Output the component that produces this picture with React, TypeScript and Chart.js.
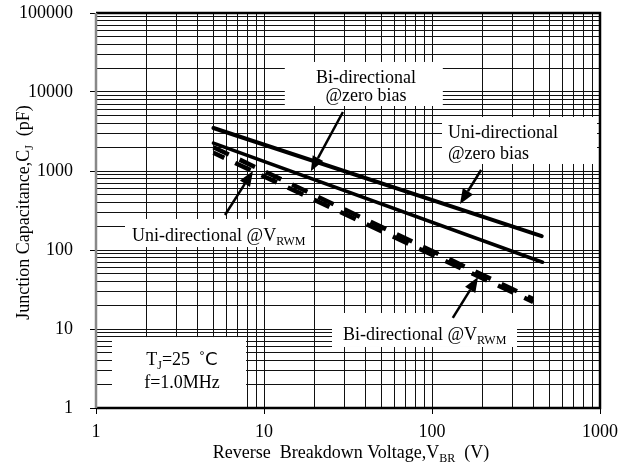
import React, { useEffect, useRef } from 'react';
import { Chart, registerables } from 'chart.js';

Chart.register(...registerables);

// ---- data ----
const uniZeroV = [5, 450];
const uniZeroC = [3500, 150];
const biZeroV = [5, 455];
const biZeroC = [2250, 70];
const uniRwmV = [5, 400];
const uniRwmC = [2000, 24];
const biRwmV = [5, 400];
const biRwmC = [1700, 22];

const xTickLabels = ['1', '10', '100', '1000'];
const yTickLabels = ['1', '10', '100', '1000', '10000', '100000'];

const SERIF = '"Liberation Serif", "Times New Roman", serif';
const SANS = '"DejaVu Sans", sans-serif';

type Part = { t: string; sub?: boolean; font?: string };
type Line = { x: number; y: number; parts: Part[] };
type Note = {
  box: [number, number, number, number];
  align: 'left' | 'center';
  lines: Line[];
  arrow?: [number, number, number, number];
};

// annotation boxes / texts / arrows in data coordinates (V, pF)
const notes: Note[] = [
  {
    box: [13.3, 24000, 116, 6650],
    align: 'center',
    lines: [
      { x: 40.5, y: 13000, parts: [{ t: 'Bi-directional' }] },
      { x: 40.5, y: 7700, parts: [{ t: '@zero bias' }] },
    ],
    arrow: [29.5, 5580, 19.0, 990],
  },
  {
    box: [114.7, 4830, 960, 1227],
    align: 'left',
    lines: [
      { x: 124.5, y: 2618, parts: [{ t: 'Uni-directional' }] },
      { x: 124.5, y: 1419, parts: [{ t: '@zero bias' }] },
    ],
    arrow: [196, 1030, 146.8, 382],
  },
  {
    box: [1.488, 247, 19.05, 109],
    align: 'left',
    lines: [{ x: 1.64, y: 130, parts: [{ t: 'Uni-directional @V' }, { t: 'RWM', sub: true }] }],
    arrow: [5.86, 277, 8.6, 1000],
  },
  {
    box: [25.4, 15.95, 320.6, 5.92],
    align: 'left',
    lines: [{ x: 29.5, y: 7.26, parts: [{ t: 'Bi-directional @V' }, { t: 'RWM', sub: true }] }],
    arrow: [133, 13.8, 188, 45.5],
  },
  {
    box: [1.245, 7.9, 7.82, 1],
    align: 'center',
    lines: [
      { x: 3.25, y: 3.5, parts: [{ t: 'T' }, { t: 'J', sub: true }, { t: '=25  \u02DA' }, { t: 'C', font: SANS }] },
      { x: 3.25, y: 1.79, parts: [{ t: 'f=1.0MHz' }] },
    ],
  },
];

const yTitle: Part[] = [{ t: 'Junction Capacitance,C' }, { t: 'J', sub: true }, { t: '  (pF)' }];
const xTitle: Part[] = [{ t: 'Reverse  Breakdown Voltage,V' }, { t: 'BR', sub: true }, { t: '  (V)' }];

function decadeGrid(maxExp: number): number[] {
  const out: number[] = [];
  for (let k = 0; k < maxExp; k++) {
    for (let d = 1; d <= 9; d++) out.push(d * Math.pow(10, k));
  }
  out.push(Math.pow(10, maxExp));
  return out;
}

function toPoints(xs: number[], ys: number[]) {
  return xs.map((x, i) => ({ x, y: ys[i] }));
}

function drawRich(ctx: CanvasRenderingContext2D, parts: Part[], x: number, y: number, align: string, size: number) {
  const subSize = Math.round(size * 0.68);
  const fontOf = (p: Part) => `${p.sub ? subSize : size}px ${p.font || SERIF}`;
  const widths = parts.map((p) => {
    ctx.font = fontOf(p);
    return ctx.measureText(p.t).width;
  });
  const total = widths.reduce((a, b) => a + b, 0);
  let cx = align === 'center' ? x - total / 2 : x;
  ctx.textAlign = 'left';
  ctx.textBaseline = 'alphabetic';
  parts.forEach((p, i) => {
    ctx.font = fontOf(p);
    ctx.fillText(p.t, cx, y + (p.sub ? size * 0.24 : 0));
    cx += widths[i];
  });
}

function drawArrow(ctx: CanvasRenderingContext2D, x1: number, y1: number, x2: number, y2: number) {
  const ang = Math.atan2(y2 - y1, x2 - x1);
  const headLen = 15;
  const headHalf = 6;
  const bx = x2 - headLen * Math.cos(ang);
  const by = y2 - headLen * Math.sin(ang);
  ctx.strokeStyle = '#000';
  ctx.lineWidth = 2.5;
  ctx.beginPath();
  ctx.moveTo(x1, y1);
  ctx.lineTo(bx, by);
  ctx.stroke();
  ctx.fillStyle = '#000';
  ctx.beginPath();
  ctx.moveTo(x2, y2);
  ctx.lineTo(bx + headHalf * Math.sin(ang), by - headHalf * Math.cos(ang));
  ctx.lineTo(bx - headHalf * Math.sin(ang), by + headHalf * Math.cos(ang));
  ctx.closePath();
  ctx.fill();
}

const notesPlugin = {
  id: 'notesPlugin',
  beforeDatasetsDraw(chart: any) {
    const { ctx, scales } = chart;
    const xs = scales.x;
    const ys = scales.y;
    ctx.save();
    ctx.fillStyle = '#ffffff';
    for (const n of notes) {
      const x1 = xs.getPixelForValue(n.box[0]);
      const y1 = ys.getPixelForValue(n.box[1]);
      const x2 = xs.getPixelForValue(n.box[2]);
      const y2 = ys.getPixelForValue(n.box[3]);
      ctx.fillRect(x1, y1, x2 - x1, y2 - y1);
    }
    ctx.restore();
  },
  afterDatasetsDraw(chart: any) {
    const { ctx, scales, chartArea } = chart;
    const xs = scales.x;
    const ys = scales.y;
    ctx.save();
    // frame
    const { left, right, top, bottom } = chartArea;
    ctx.lineWidth = 2.5;
    ctx.strokeStyle = '#000';
    ctx.beginPath();
    ctx.moveTo(left, top);
    ctx.lineTo(right, top);
    ctx.lineTo(right, bottom);
    ctx.lineTo(left, bottom);
    ctx.stroke();
    ctx.strokeStyle = '#888';
    ctx.beginPath();
    ctx.moveTo(left, top);
    ctx.lineTo(left, bottom);
    ctx.stroke();

    // arrows and texts
    ctx.fillStyle = '#000';
    for (const n of notes) {
      if (n.arrow) {
        drawArrow(
          ctx,
          xs.getPixelForValue(n.arrow[0]),
          ys.getPixelForValue(n.arrow[1]),
          xs.getPixelForValue(n.arrow[2]),
          ys.getPixelForValue(n.arrow[3])
        );
      }
      ctx.fillStyle = '#000';
      for (const l of n.lines) {
        drawRich(ctx, l.parts, xs.getPixelForValue(l.x), ys.getPixelForValue(l.y), n.align, 18);
      }
    }

    // axis titles
    ctx.fillStyle = '#000';
    drawRich(ctx, xTitle, (left + right) / 2 + 3, 458, 'center', 18);
    ctx.translate(29, (top + bottom) / 2 + 2);
    ctx.rotate(-Math.PI / 2);
    drawRich(ctx, yTitle, 0, 0, 'center', 18);
    ctx.restore();
  },
};

export default function App() {
  const ref = useRef<HTMLCanvasElement | null>(null);

  useEffect(() => {
    if (!ref.current) return;
    const xGrid = decadeGrid(3);
    const yGrid = decadeGrid(5);
    const solid = (data: any[], w: number) => ({
      data,
      showLine: true,
      borderColor: '#000',
      backgroundColor: '#000',
      borderWidth: w,
      pointRadius: 0,
      borderCapStyle: 'round',
      fill: false,
    });
    const dashed = (data: any[], offset: number) => ({
      data,
      showLine: true,
      borderColor: '#000',
      backgroundColor: '#000',
      borderWidth: 4.5,
      pointRadius: 0,
      borderDash: [17, 12],
      borderDashOffset: offset,
      borderCapStyle: 'butt',
      fill: false,
    });
    const chart = new Chart(ref.current, {
      type: 'scatter',
      data: {
        datasets: [
          solid(toPoints(uniZeroV, uniZeroC), 4) as any,
          solid(toPoints(biZeroV, biZeroC), 3.5) as any,
          dashed(toPoints(uniRwmV, uniRwmC), 0) as any,
          dashed(toPoints(biRwmV, biRwmC), 5) as any,
        ],
      },
      options: {
        animation: false,
        responsive: false,
        devicePixelRatio: 1,
        layout: { padding: { top: 13, right: 26, left: 0, bottom: 0 } },
        plugins: { legend: { display: false }, tooltip: { enabled: false } },
        scales: {
          x: {
            type: 'logarithmic',
            min: 1,
            max: 1000,
            afterBuildTicks: (s: any) => {
              s.ticks = xGrid.map((v) => ({ value: v }));
            },
            afterFit: (s: any) => {
              s.height = 64;
              s.paddingLeft = 0;
              s.paddingRight = 0;
            },
            border: { display: false },
            grid: {
              color: '#111',
              lineWidth: 1,
              tickLength: 6,
              tickColor: (c: any) => (xTickLabels.includes(String(c.tick?.value)) ? '#000' : 'rgba(0,0,0,0)'),
            },
            ticks: {
              autoSkip: false,
              maxRotation: 0,
              padding: 7,
              color: '#000',
              font: { family: SERIF, size: 18 },
              callback: (v: any) => (xTickLabels.includes(String(v)) ? String(v) : ''),
            },
          },
          y: {
            type: 'logarithmic',
            min: 1,
            max: 100000,
            afterBuildTicks: (s: any) => {
              s.ticks = yGrid.map((v) => ({ value: v }));
            },
            afterFit: (s: any) => {
              s.width = 96;
              s.paddingTop = 0;
              s.paddingBottom = 0;
            },
            border: { display: false },
            grid: {
              color: '#111',
              lineWidth: 1,
              tickLength: 6,
              tickColor: (c: any) => (yTickLabels.includes(String(c.tick?.value)) ? '#000' : 'rgba(0,0,0,0)'),
            },
            ticks: {
              autoSkip: false,
              padding: 17,
              color: '#000',
              font: { family: SERIF, size: 18 },
              callback: (v: any) => (yTickLabels.includes(String(v)) ? String(v) : ''),
            },
          },
        },
      },
      plugins: [notesPlugin as any],
    });
    return () => chart.destroy();
  }, []);

  return (
    <div style={{ position: 'absolute', left: 0, top: 0, width: 626, height: 472, background: '#fff' }}>
      <canvas ref={ref} width={626} height={472} style={{ width: 626, height: 472, display: 'block' }} />
    </div>
  );
}
